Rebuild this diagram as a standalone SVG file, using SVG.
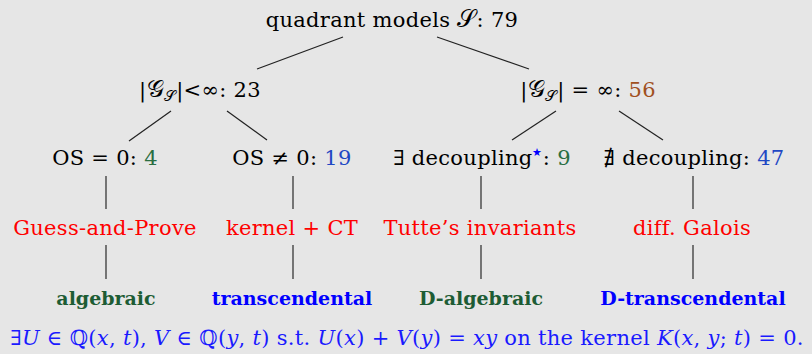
<svg xmlns="http://www.w3.org/2000/svg" width="812" height="354" viewBox="0 0 812 354">
<style>
text{font-family:"DejaVu Serif",serif;font-size:21px;letter-spacing:0.3px;fill:#000;text-anchor:middle}
.red{fill:#ff0000}
.bold{font-weight:bold;font-size:19px;letter-spacing:0}
.g{fill:#2a6e41}
.b{fill:#1f48c4}
.br{fill:#a0501e}
.dg{fill:#1d5c34}
.bb{fill:#0000ff}
.f{fill:#1a1aff}
.sub{font-size:15px}
.scr{font-size:24px}
.edge{stroke:#222;stroke-width:1.2;fill:none}
.vert{stroke:#444;stroke-width:1.4;fill:none}
</style>
<rect width="812" height="354" fill="#e6e6e6"/>
<g id="connectors">
<line class="edge" x1="343" y1="37" x2="257" y2="69"/>
<line class="edge" x1="437" y1="37" x2="529" y2="69"/>
<line class="edge" x1="171" y1="111" x2="129" y2="141"/>
<line class="edge" x1="227" y1="111" x2="267" y2="140"/>
<line class="edge" x1="556" y1="111" x2="512" y2="140"/>
<line class="edge" x1="619" y1="111" x2="663" y2="140"/>
<line class="vert" x1="106" y1="176" x2="106" y2="209"/>
<line class="vert" x1="106" y1="245" x2="106" y2="279"/>
<line class="vert" x1="293" y1="176" x2="293" y2="209"/>
<line class="vert" x1="293" y1="245" x2="293" y2="279"/>
<line class="vert" x1="481" y1="176" x2="481" y2="209"/>
<line class="vert" x1="481" y1="245" x2="481" y2="279"/>
<line class="vert" x1="693" y1="176" x2="693" y2="209"/>
<line class="vert" x1="693" y1="245" x2="693" y2="279"/>
</g>
<g id="root"><text x="392" y="27">quadrant models <tspan class="scr">𝒮</tspan>: 79</text></g>
<g id="finite"><text x="200" y="97">|<tspan class="scr">𝒢</tspan><tspan class="sub" dy="4">𝒮</tspan><tspan dy="-4">|&lt;∞: 23</tspan></text></g>
<g id="infinite"><text x="588" y="97">|<tspan class="scr">𝒢</tspan><tspan class="sub" dy="4">𝒮</tspan><tspan dy="-4">| = ∞: </tspan><tspan class="br">56</tspan></text></g>
<g id="os0"><text x="105" y="165">OS = 0: <tspan class="g">4</tspan></text></g>
<g id="osn0"><text x="292" y="165">OS ≠ 0: <tspan class="b">19</tspan></text></g>
<g id="dec"><text x="482" y="165">∃ decoupling<tspan class="bb" font-size="11" dy="-9">★</tspan><tspan dy="9">: </tspan><tspan class="g">9</tspan></text></g>
<g id="nodec"><text x="694" y="165">∄ decoupling: <tspan class="b">47</tspan></text></g>
<g id="gp"><text class="red" x="105" y="235">Guess-and-Prove</text></g>
<g id="kct"><text class="red" x="292" y="235">kernel + CT</text></g>
<g id="tutte"><text class="red" x="480" y="235">Tutte’s invariants</text></g>
<g id="galois"><text class="red" x="692" y="235">diff. Galois</text></g>
<g id="alg"><text class="bold dg" x="106" y="305">algebraic</text></g>
<g id="trans"><text class="bold bb" x="292" y="305">transcendental</text></g>
<g id="dalg"><text class="bold dg" x="481" y="305">D-algebraic</text></g>
<g id="dtrans"><text class="bold bb" x="693" y="305">D-transcendental</text></g>
<g id="formula"><text class="f" x="407" y="345">∃<tspan font-style="italic">U</tspan> ∈ ℚ(<tspan font-style="italic">x</tspan>, <tspan font-style="italic">t</tspan>), <tspan font-style="italic">V</tspan> ∈ ℚ(<tspan font-style="italic">y</tspan>, <tspan font-style="italic">t</tspan>) s.t. <tspan font-style="italic">U</tspan>(<tspan font-style="italic">x</tspan>) + <tspan font-style="italic">V</tspan>(<tspan font-style="italic">y</tspan>) = <tspan font-style="italic">xy</tspan> on the kernel <tspan font-style="italic">K</tspan>(<tspan font-style="italic">x</tspan>, <tspan font-style="italic">y</tspan>; <tspan font-style="italic">t</tspan>) = 0.</text></g>
</svg>
